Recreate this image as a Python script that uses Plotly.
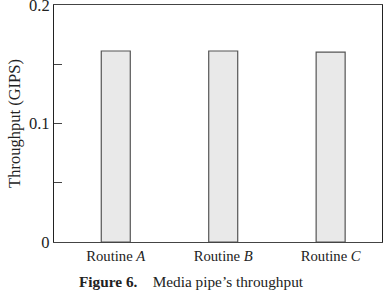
import plotly.graph_objects as go

categories = ["Routine <i>A</i>", "Routine <i>B</i>", "Routine <i>C</i>"]
throughput = [0.1612, 0.1612, 0.1603]
y_tickvals = [0, 0.05, 0.1, 0.15, 0.2]
y_ticktext = ["0", "", "0.1", "", ""]
top_label = "0.2"

font = "Liberation Serif, Times New Roman, serif"

fig = go.Figure()
fig.add_trace(go.Bar(
    x=[0, 1, 2], y=throughput, width=0.27,
    marker=dict(color="#e9e9e9", line=dict(color="#555555", width=1.2)),
))
fig.update_layout(
    width=385, height=290,
    margin=dict(l=54, r=3, t=5, b=48),
    plot_bgcolor="white", paper_bgcolor="white",
    showlegend=False,
    font=dict(family=font, size=13, color="#222"),
    xaxis=dict(
        range=[-0.575, 2.478], tickvals=[0, 1, 2], ticktext=categories,
        showline=True, linecolor="#444", linewidth=1.2, mirror=True,
        ticks="", showgrid=False, zeroline=False,
        tickfont=dict(family=font, size=14.7, color="#222"),
    ),
    yaxis=dict(
        range=[0, 0.2], tickvals=y_tickvals, ticktext=y_ticktext,
        showline=True, linecolor="#222", linewidth=1.2, mirror=True,
        ticks="inside", ticklen=8, tickcolor="#444", tickwidth=1,
        showgrid=False, zeroline=False,
        title=dict(text="Throughput (GIPS)", standoff=4, font=dict(family=font, size=16.5, color="#222")),
        tickfont=dict(family=font, size=16.5, color="#222"),
    ),
)
fig.add_annotation(
    text=top_label, xref="paper", yref="y", x=0, y=0.2, xanchor="right", yanchor="middle",
    xshift=-2, showarrow=False, font=dict(family=font, size=16.5, color="#222"),
)
fig.add_annotation(
    text="<b>Figure 6.</b>&nbsp;&nbsp;&nbsp;&nbsp;Media pipe’s throughput",
    xref="paper", yref="paper", x=0.42, y=-0.155, yanchor="middle", yshift=-3, showarrow=False,
    font=dict(family=font, size=15.3, color="#222"),
)
fig.write_html("out.html")
